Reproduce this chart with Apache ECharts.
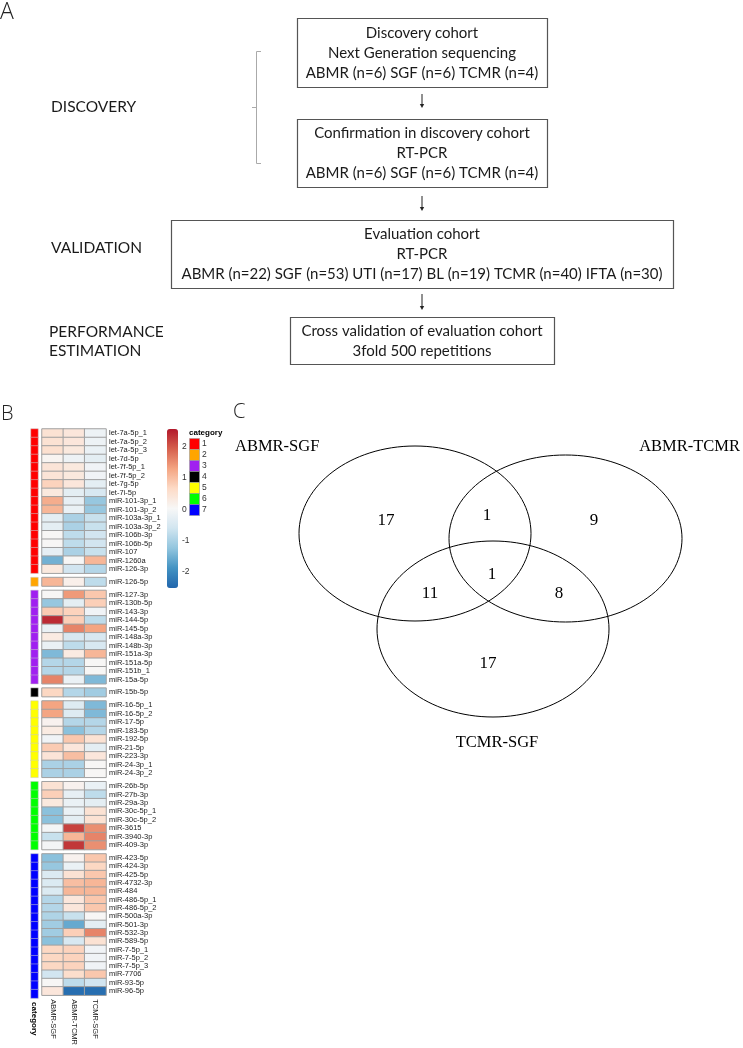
<!DOCTYPE html>
<html><head><meta charset="utf-8">
<script src="https://cdn.jsdelivr.net/npm/echarts@6/dist/echarts.min.js"></script>
<style>html,body{margin:0;padding:0;background:#fff}#c{width:743px;height:1048px}</style>
</head><body><div id="c"></div>
<script>
// ---------- DATA ----------
const columns = ['ABMR-SGF', 'ABMR-TCMR', 'TCMR-SGF'];
const rowNames = [
  'let-7a-5p_1','let-7a-5p_2','let-7a-5p_3','let-7d-5p','let-7f-5p_1','let-7f-5p_2','let-7g-5p','let-7i-5p','miR-101-3p_1','miR-101-3p_2','miR-103a-3p_1','miR-103a-3p_2','miR-106b-3p','miR-106b-5p','miR-107','miR-1260a','miR-126-3p',
  'miR-126-5p',
  'miR-127-3p','miR-130b-5p','miR-143-3p','miR-144-5p','miR-145-5p','miR-148a-3p','miR-148b-3p','miR-151a-3p','miR-151a-5p','miR-151b_1','miR-15a-5p',
  'miR-15b-5p',
  'miR-16-5p_1','miR-16-5p_2','miR-17-5p','miR-183-5p','miR-192-5p','miR-21-5p','miR-223-3p','miR-24-3p_1','miR-24-3p_2',
  'miR-26b-5p','miR-27b-3p','miR-29a-3p','miR-30c-5p_1','miR-30c-5p_2','miR-3615','miR-3940-3p','miR-409-3p',
  'miR-423-5p','miR-424-3p','miR-425-5p','miR-4732-3p','miR-484','miR-486-5p_1','miR-486-5p_2','miR-500a-3p','miR-501-3p','miR-532-3p','miR-589-5p','miR-7-5p_1','miR-7-5p_2','miR-7-5p_3','miR-7706','miR-93-5p','miR-96-5p'
];
const rowCategory = [
  1,1,1,1,1,1,1,1,1,1,1,1,1,1,1,1,1,
  2,
  3,3,3,3,3,3,3,3,3,3,3,
  4,
  5,5,5,5,5,5,5,5,5,
  6,6,6,6,6,6,6,6,
  7,7,7,7,7,7,7,7,7,7,7,7,7,7,7,7,7
];
const abmrSgf = [
  0.5,0.5,0.55,0.1,0.45,0.45,0.75,0.35,1.2,1.1,-0.3,-0.3,0.05,0.05,-0.25,-1.5,0.35,
  1.1,
  0.05,-1.2,0.85,2.4,-0.2,0.3,-0.2,-1.4,-0.9,-0.9,1.6,
  0.7,
  1.3,1.3,0.15,0.3,-0.1,0.85,0.45,-1.0,-1.0,
  0.5,0.8,0.35,-1.3,-1.3,-0.05,-0.7,-0.05,
  -1.3,-1.2,-0.45,-0.45,-0.45,-0.9,-0.9,-0.95,-1.1,-1.1,-1.3,0.7,0.7,0.7,-0.6,0.05,0.4
];
const abmrTcmr = [
  0.4,0.4,0.35,-0.15,0.35,0.35,0.4,-0.3,-0.25,-0.2,-1.0,-1.0,-0.8,-0.8,-1.0,0.05,-0.6,
  0.2,
  1.4,-0.3,0.75,0.8,1.6,-0.5,-0.8,0.3,-0.9,-0.9,-0.2,
  -0.9,
  -0.4,-0.4,-0.9,-1.3,0.9,0.4,1.0,-1.0,-1.0,
  0.15,-0.25,-0.2,-0.2,-0.3,2.2,1.1,2.3,
  0.15,-0.2,0.5,1.0,1.1,0.4,0.4,-0.7,-1.6,0.8,-0.5,0.75,0.75,0.75,0.6,-0.8,-2.4
];
const tcmrSgf = [
  -0.15,-0.15,-0.2,-0.3,-0.1,-0.1,-0.3,-0.5,-1.2,-1.2,-0.7,-0.7,-0.6,-0.6,-0.7,1.1,-0.9,
  -0.8,
  0.9,0.8,-0.1,-0.8,1.3,-0.5,-0.5,1.1,0.05,0.05,-1.4,
  -1.1,
  -1.4,-1.4,-0.9,-0.9,0.5,-0.3,0.4,0.05,0.05,
  -0.2,-0.8,-0.3,0.5,0.5,1.5,1.6,1.5,
  0.9,0.7,0.9,1.1,1.1,0.9,0.9,0.05,-0.3,1.6,0.5,-0.1,-0.1,-0.1,0.9,-0.6,-2.4
];
const colorbarTicks = [2, 1, 0, -1, -2];
const categoryLabels = ['1','2','3','4','5','6','7'];
const categoryColors = ['#FF0000','#FFA500','#A020F0','#000000','#FFFF00','#00FF00','#0000FF'];

const flowStages = ['DISCOVERY', 'VALIDATION', 'PERFORMANCE\nESTIMATION'];
const flowBoxes = [
  ['Discovery cohort', 'Next Generation sequencing', 'ABMR (n=6) SGF (n=6) TCMR (n=4)'],
  ['Confirmation in discovery cohort', 'RT-PCR', 'ABMR (n=6) SGF (n=6) TCMR (n=4)'],
  ['Evaluation cohort', 'RT-PCR', 'ABMR (n=22) SGF (n=53) UTI (n=17) BL (n=19) TCMR (n=40) IFTA (n=30)'],
  ['Cross validation of evaluation cohort', '3fold 500 repetitions']
];

const vennSets = ['ABMR-SGF', 'ABMR-TCMR', 'TCMR-SGF'];
// regions: ABMR-SGF only, ABMR-SGF∩ABMR-TCMR, ABMR-TCMR only, all three, ABMR-SGF∩TCMR-SGF, ABMR-TCMR∩TCMR-SGF, TCMR-SGF only
const vennCounts = [17, 1, 9, 1, 11, 8, 17];

// ---------- LAYOUT ----------
const L = { top: 429, rowH: 8.48, gap: 4.4, stripLeft: 31, stripW: 7, hmLeft: 42, hmW: 64 };
const palette = ['#2166ac','#4393c3','#92c5de','#d1e5f0','#f7f7f7','#fddbc7','#f4a582','#d6604d','#b2182b'];
const hmFont = 'Liberation Sans';

const groups = [];
rowCategory.forEach((c, i) => {
  if (!groups.length || groups[groups.length - 1].cat !== c) groups.push({ cat: c, start: i, n: 0 });
  groups[groups.length - 1].n++;
});

const grid = [], xAxis = [], yAxis = [], series = [];
const heatIdx = [], stripIdx = [];
let yPos = L.top;
groups.forEach((g, gi) => {
  const h = g.n * L.rowH;
  const last = gi === groups.length - 1;
  const names = rowNames.slice(g.start, g.start + g.n);
  grid.push({ left: L.stripLeft, top: yPos, width: L.stripW, height: h });
  const si = grid.length - 1;
  grid.push({ left: L.hmLeft, top: yPos, width: L.hmW, height: h });
  const hi = grid.length - 1;
  xAxis.push({ gridIndex: si, type: 'category', data: ['category'], axisLine: { show: false }, axisTick: { show: false },
    axisLabel: { show: last, rotate: -90, margin: 4, fontSize: 8, fontWeight: 'bold', color: '#000', fontFamily: hmFont } });
  xAxis.push({ gridIndex: hi, type: 'category', data: columns, axisLine: { show: false }, axisTick: { show: false },
    axisLabel: { show: last, rotate: -90, margin: 4, interval: 0, fontSize: 7.5, color: '#222', fontFamily: hmFont } });
  yAxis.push({ gridIndex: si, type: 'category', data: names, inverse: true, show: false });
  yAxis.push({ gridIndex: hi, type: 'category', data: names, inverse: true, position: 'right',
    axisLine: { show: false }, axisTick: { show: false },
    axisLabel: { interval: 0, margin: 3, fontSize: 7.5, color: '#222', fontFamily: hmFont } });
  series.push({ type: 'heatmap', xAxisIndex: si, yAxisIndex: si, silent: true,
    data: names.map((n, k) => [0, k, rowCategory[g.start + k]]),
    itemStyle: { borderColor: '#c8c8c8', borderWidth: 0.5 } });
  stripIdx.push(series.length - 1);
  const d = [];
  for (let k = 0; k < g.n; k++) {
    const idx = g.start + k;
    d.push([0, k, abmrSgf[idx]], [1, k, abmrTcmr[idx]], [2, k, tcmrSgf[idx]]);
  }
  series.push({ type: 'heatmap', xAxisIndex: hi, yAxisIndex: hi, silent: true, data: d,
    itemStyle: { borderColor: '#a0a0a0', borderWidth: 1 } });
  heatIdx.push(series.length - 1);
  yPos += h + L.gap;
});

// colour bar axis (tick labels)
grid.push({ left: 167, top: 429, width: 11, height: 159 });
const cbi = grid.length - 1;
xAxis.push({ gridIndex: cbi, type: 'value', show: false });
yAxis.push({ gridIndex: cbi, type: 'value', min: -2.52, max: 2.57, position: 'right',
  axisLine: { show: false }, axisTick: { show: false }, splitLine: { show: false },
  axisLabel: { customValues: colorbarTicks, margin: 4, fontSize: 8.5, color: '#333', fontFamily: hmFont } });

// ---------- GRAPHICS ----------
const G = [];
const ffA = 'Lato';
function txt(text, x, y, font, align, fill, va) {
  G.push({ type: 'text', x: x, y: y, silent: true,
    style: { text: text, font: font, fill: fill || '#1a1a1a', textAlign: align || 'left', align: align || 'left',
      textVerticalAlign: va || 'middle', verticalAlign: va || 'middle' } });
}
function rect(x, y, w, h, stroke, lw, fill) {
  G.push({ type: 'rect', shape: { x: x, y: y, width: w, height: h }, silent: true,
    style: { fill: fill || 'none', stroke: stroke, lineWidth: lw } });
}
function line(pts, stroke, lw) {
  G.push({ type: 'polyline', shape: { points: pts }, silent: true, style: { fill: 'none', stroke: stroke, lineWidth: lw } });
}
function arrow(x, y1, y2) {
  line([[x, y1], [x, y2 - 3]], '#222', 1);
  G.push({ type: 'polygon', shape: { points: [[x - 2.2, y2 - 4], [x + 2.2, y2 - 4], [x, y2]] }, silent: true, style: { fill: '#222' } });
}
// panel labels
txt('A', 0, 12, '300 23px "Open Sans"', 'left', '#222');
txt('B', 1, 414, '300 20px "Open Sans"', 'left', '#222');
txt('C', 233, 412, '300 20px "Open Sans"', 'left', '#222');

// panel A flowchart
const boxGeom = [[297, 18, 250, 69], [297, 119, 250, 68], [171, 220, 502, 68], [290, 317, 264, 47]];
const boxLineY = [[33, 53, 73], [133, 153, 173], [234, 254, 274], [331, 351]];
flowBoxes.forEach((lines, i) => {
  const b = boxGeom[i];
  rect(b[0] + 0.5, b[1] + 0.5, b[2], b[3], '#555', 1.2);
  lines.forEach((t, j) => txt(t, 422, boxLineY[i][j], '15px ' + ffA, 'center'));
});
arrow(422, 94, 108);
arrow(422, 196, 211);
arrow(422, 294, 310);
txt(flowStages[0], 51, 107, '15.5px ' + ffA, 'left');
txt(flowStages[1], 51, 248, '15.5px ' + ffA, 'left');
const ps = flowStages[2].split('\n');
txt(ps[0], 49, 332, '15.5px ' + ffA, 'left');
txt(ps[1], 49, 351, '15.5px ' + ffA, 'left');
line([[261, 51.5], [256.5, 51.5], [256.5, 163.5], [261, 163.5]], '#aaa', 1);
line([[256.5, 107.5], [252, 107.5]], '#aaa', 1);

// category legend
txt('category', 189, 433, 'bold 8px "Liberation Sans"', 'left', '#000');
categoryColors.forEach((c, i) => {
  rect(189.5, 438.5 + i * 11, 10, 11, '#9a9a9a', 0.6, c);
  txt(categoryLabels[i], 202, 444 + i * 11, '8.5px "Liberation Sans"', 'left', '#333');
});

// panel C venn
const vennEll = [[415, 533.5, 116, 87.5], [565.5, 538.5, 116.5, 83.5], [493, 629, 116, 88]];
vennEll.forEach(e => G.push({ type: 'ellipse', shape: { cx: e[0], cy: e[1], rx: e[2], ry: e[3] }, silent: true,
  style: { fill: 'none', stroke: '#000', lineWidth: 1 } }));
const vennSetPos = [[235, 447, 'left'], [740, 447, 'right'], [497, 743, 'center']];
vennSets.forEach((s, i) => txt(s, vennSetPos[i][0], vennSetPos[i][1], '16.5px "Liberation Serif"', vennSetPos[i][2], '#000'));
const vennCountPos = [[386, 521], [487, 516], [594, 521], [492, 575], [430, 594], [559, 594], [488, 664]];
vennCounts.forEach((v, i) => txt(String(v), vennCountPos[i][0], vennCountPos[i][1], '17px "Liberation Serif"', 'center', '#000'));

// ---------- OPTION ----------
const option = {
  backgroundColor: '#fff',
  animation: false,
  grid: grid,
  xAxis: xAxis,
  yAxis: yAxis,
  visualMap: [
    { type: 'continuous', seriesIndex: heatIdx, min: -2.52, max: 2.57, calculable: false, show: true,
      left: 167, top: 429, itemWidth: 11, itemHeight: 159, padding: 0, text: null, showLabel: false,
      inRange: { color: palette }, hoverLink: false },
    { type: 'piecewise', seriesIndex: stripIdx, show: false, dimension: 2,
      pieces: categoryColors.map((c, i) => ({ value: i + 1, color: c })) }
  ],
  series: series,
  graphic: { elements: G }
};
const chart = echarts.init(document.getElementById('c'));
chart.setOption(option);
</script>
</body></html>
